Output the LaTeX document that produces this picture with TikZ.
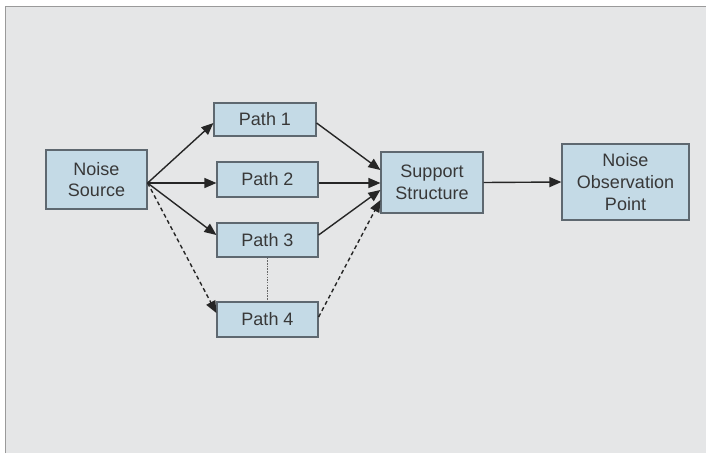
\documentclass[tikz,border=0pt]{standalone}
\usepackage{fontspec}
\setmainfont{Liberation Sans}
\usetikzlibrary{arrows.meta}
\definecolor{bg}{HTML}{E5E6E7}
\definecolor{frameline}{HTML}{9A9A9A}
\definecolor{boxfill}{HTML}{C4DAE6}
\definecolor{boxline}{HTML}{5E6870}
\definecolor{txt}{HTML}{383838}
\definecolor{ln}{HTML}{262626}
\tikzset{
  box/.style={draw=boxline, line width=1.2pt, fill=boxfill, text=txt, inner sep=0pt,
    align=center, font=\fontsize{18}{21.7}\selectfont},
  conn/.style={draw=ln, line width=1.4pt, -{Triangle[length=12pt,width=10pt]}},
  dconn/.style={conn, dash pattern=on 4pt off 3pt},
}
\begin{document}
\begin{tikzpicture}[x=1pt,y=-1pt]
\useasboundingbox (0,0) rectangle (706,453);
\fill[white] (0,0) rectangle (706,453);
\fill[bg] (5,6) rectangle (706,453);
\draw[frameline, line width=1pt] (5,453) -- (5,6) -- (706,6);

\node[box, minimum width=101pt, minimum height=59pt] (src) at (96.5,179.5) {Noise\\Source};
\node[box, minimum width=102pt, minimum height=33pt] (p1) at (265,119.5) {Path 1};
\node[box, minimum width=101pt, minimum height=35pt] (p2) at (267.5,179.5) {Path 2};
\node[box, minimum width=101pt, minimum height=34pt] (p3) at (267.5,240) {Path 3};
\node[box, minimum width=101pt, minimum height=35pt] (p4) at (267.5,319.5) {Path 4};
\node[box, minimum width=102pt, minimum height=61pt] (sup) at (432,182.5) {Support\\Structure};
\node[box, minimum width=127pt, minimum height=76pt] (obs) at (625.5,182) {Noise\\Observation\\Point};

\coordinate (s0) at ([yshift=-3.5pt]src.east);

\draw[conn] (s0) -- ([yshift=-3.5pt]p1.west);
\draw[conn] (s0) -- ([yshift=-3.5pt]p2.west);
\draw[conn] (s0) -- ([yshift=5pt]p3.west);
\draw[dconn] (s0) -- ([yshift=6.5pt]p4.west);

\draw[conn] ([yshift=-3.5pt]p1.east) -- ([yshift=12.5pt]sup.west);
\draw[conn] ([yshift=-3.5pt]p2.east) -- ([yshift=-0.5pt]sup.west);
\draw[conn] ([yshift=5pt]p3.east) -- ([yshift=-7.5pt]sup.west);
\draw[dconn] ([yshift=2.5pt]p4.east) -- ([yshift=-17.5pt]sup.west);

\draw[draw=ln!70, line width=1.4pt, dash pattern=on 1.5pt off 1.2pt] (p3.south) -- (p4.north);

\draw[conn] (sup.east) -- (obs.west);
\end{tikzpicture}
\end{document}
